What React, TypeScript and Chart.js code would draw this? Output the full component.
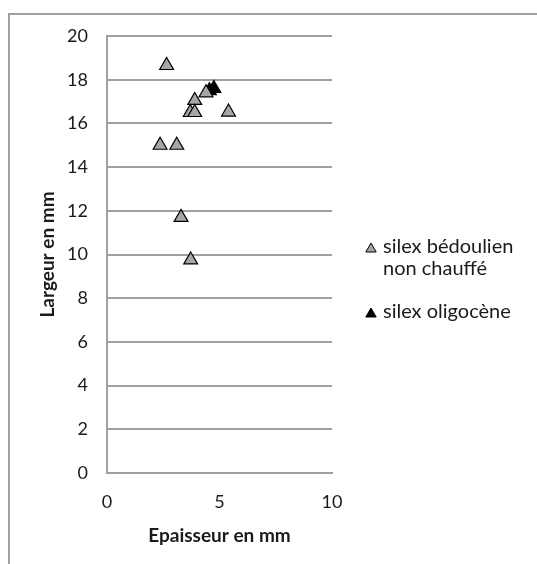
import React, { useEffect, useRef } from "react";
import { Chart, registerables } from "chart.js";

Chart.register(...registerables);

const seriesNames = ["silex bédoulien non chauffé", "silex oligocène"];
const legendLines = [["silex bédoulien", "non chauffé"], ["silex oligocène"]];
const bedoulienX = [2.65, 3.9, 3.7, 3.9, 5.4, 2.36, 3.1, 3.29, 3.72, 4.4];
const bedoulienY = [18.65, 17.05, 16.5, 16.5, 16.52, 15.0, 15.0, 11.7, 9.75, 17.4];
const oligoceneX = [4.55, 4.75];
const oligoceneY = [17.5, 17.6];
const xTitle = "Epaisseur en mm";
const yTitle = "Largeur en mm";

const FONT = "Lato, 'Open Sans', sans-serif";
const TEXT = "#1a1a1a";

const legendPlugin = {
  id: "sideLegend",
  afterDraw(chart: any) {
    const ctx = chart.ctx;
    ctx.save();
    const markerX = 371;
    const textX = 383;
    const starts = [247, 312];
    chart.data.datasets.forEach((ds: any, i: number) => {
      const y0 = starts[i];
      ctx.fillStyle = ds.backgroundColor;
      ctx.strokeStyle = "#000";
      ctx.lineWidth = 1;
      ctx.beginPath();
      const r = 6;
      const cy = y0 + 2;
      ctx.moveTo(markerX, cy - r);
      ctx.lineTo(markerX + r * 0.866, cy + r / 2);
      ctx.lineTo(markerX - r * 0.866, cy + r / 2);
      ctx.closePath();
      ctx.fill();
      ctx.stroke();
      ctx.fillStyle = TEXT;
      ctx.font = `20px ${FONT}`;
      ctx.textBaseline = "middle";
      ctx.textAlign = "left";
      legendLines[i].forEach((line, j) => {
        ctx.fillText(line, textX, y0 + j * 22);
      });
    });
    ctx.restore();
  },
};

export default function App() {
  const ref = useRef<HTMLCanvasElement>(null);
  useEffect(() => {
    if (!ref.current) return;
    const chart = new Chart(ref.current, {
      type: "scatter",
      data: {
        datasets: [
          {
            label: seriesNames[0],
            data: bedoulienX.map((x, i) => ({ x, y: bedoulienY[i] })),
            pointStyle: "triangle",
            pointRadius: 8,
            pointHoverRadius: 8,
            backgroundColor: "#a6a6a6",
            borderColor: "#000",
            borderWidth: 1.2,
          },
          {
            label: seriesNames[1],
            data: oligoceneX.map((x, i) => ({ x, y: oligoceneY[i] })),
            pointStyle: "triangle",
            pointRadius: 8,
            pointHoverRadius: 8,
            backgroundColor: "#000",
            borderColor: "#000",
            borderWidth: 1.2,
          },
        ],
      },
      options: {
        animation: false,
        responsive: false,
        maintainAspectRatio: false,
        layout: { padding: { left: 32, top: 36, right: 205, bottom: 0 } },
        plugins: { legend: { display: false }, tooltip: { enabled: false } },
        scales: {
          x: {
            type: "linear",
            min: 0,
            max: 10,
            ticks: { stepSize: 5, padding: 18, color: TEXT, font: { family: FONT, size: 18 } },
            grid: { display: false, drawTicks: false },
            border: { display: true, color: "#a0a0a0", width: 2 },
            title: {
              display: true,
              text: xTitle,
              color: TEXT,
              font: { family: FONT, size: 19, weight: "bold" },
              padding: { top: 4, bottom: 17 },
            },
            afterFit(scale: any) {
              scale.height = 91;
            },
          },
          y: {
            type: "linear",
            min: 0,
            max: 20,
            ticks: { stepSize: 2, padding: 19, color: TEXT, font: { family: FONT, size: 18 } },
            grid: { display: true, drawTicks: false, color: "#a0a0a0", lineWidth: 2 },
            border: { display: true, color: "#a0a0a0", width: 2 },
            title: {
              display: true,
              text: yTitle,
              color: TEXT,
              font: { family: FONT, size: 19, weight: "bold" },
              padding: { top: 4, bottom: 4 },
            },
            afterFit(scale: any) {
              scale.width = 75;
            },
          },
        },
      },
      plugins: [legendPlugin],
    });
    return () => chart.destroy();
  }, []);

  return (
    <div style={{ position: "absolute", left: 0, top: 0, width: 537, height: 564, overflow: "hidden", background: "#fff" }}>
      <div
        style={{
          position: "absolute",
          left: 8,
          top: 13,
          width: 600,
          height: 600,
          border: "2px solid #a0a0a0",
          boxSizing: "border-box",
        }}
      />
      <canvas ref={ref} width={537} height={564} style={{ position: "absolute", left: 0, top: 0 }} />
    </div>
  );
}
